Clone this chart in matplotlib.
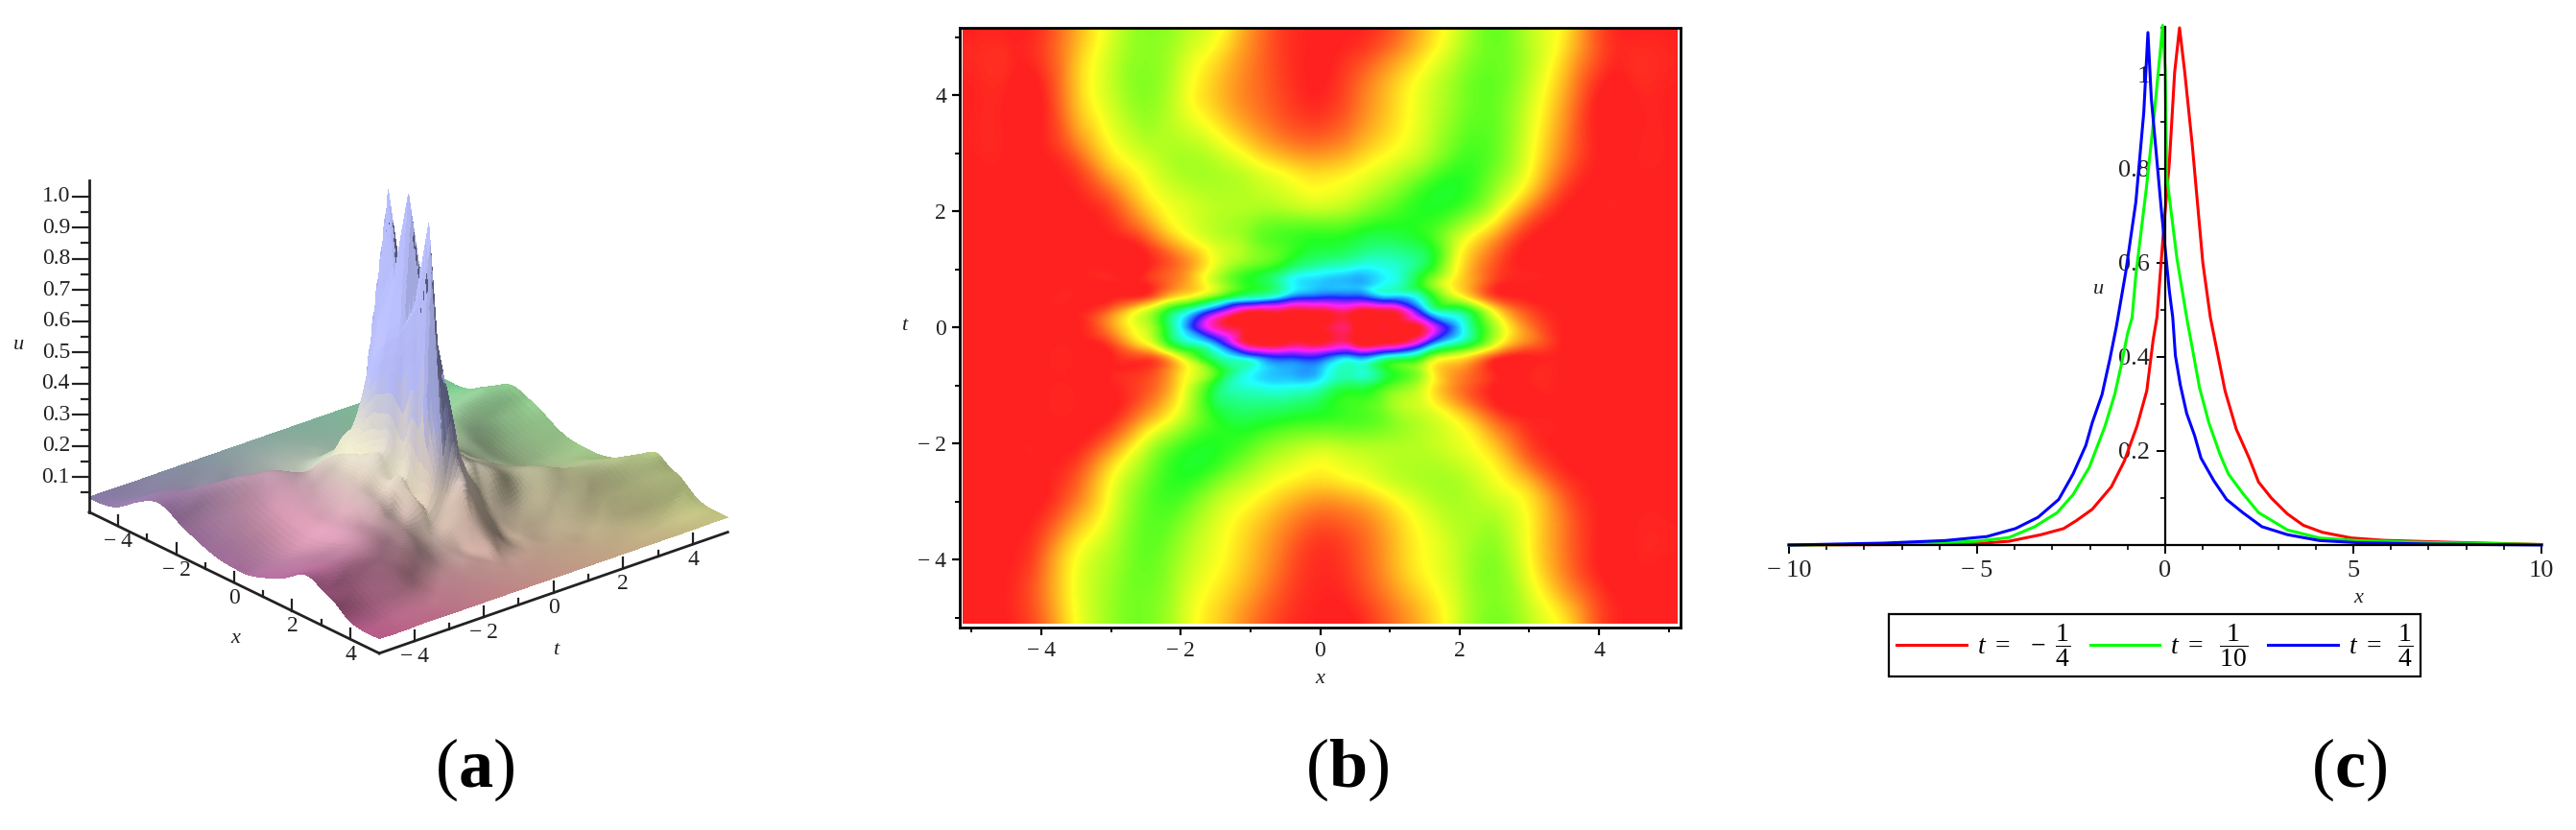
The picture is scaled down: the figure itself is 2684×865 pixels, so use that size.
import numpy as np
import matplotlib
matplotlib.use("Agg")
import matplotlib.pyplot as plt
import matplotlib.tri as mtri
from matplotlib.colors import LinearSegmentedColormap
from mpl_toolkits.mplot3d import proj3d

plt.rcParams['font.family'] = ['Liberation Serif', 'DejaVu Serif']
plt.rcParams['mathtext.fontset'] = 'custom'
plt.rcParams['mathtext.rm'] = 'Liberation Serif'
plt.rcParams['mathtext.it'] = 'Liberation Serif:italic'
plt.rcParams['mathtext.bf'] = 'Liberation Serif:bold'

# values: u on a grid of x and t
x_nodes = [-5, -4.5, -4, -3.5, -3, -2.5, -2, -1.5, -1, -.5, 0, .5, 1, 1.5, 2, 2.5, 3, 3.5, 4, 4.5, 5]
t_nodes = [-5, -4, -3, -2.5, -2, -1.5, -1, -.75, -.5, -.25, 0, .25, .5, .75, 1, 1.5, 2, 2.5, 3, 4, 5]
u_grid = [
    [.035, .035, .050, .085, .115, .125, .100, .075, .055, .040, .035, .035, .050, .070, .100, .125, .105, .080, .045, .035, .035],
    [.035, .035, .050, .085, .110, .130, .110, .088, .070, .050, .038, .045, .065, .085, .105, .120, .085, .055, .035, .035, .035],
    [.035, .035, .035, .055, .090, .130, .135, .105, .085, .070, .060, .065, .080, .100, .110, .100, .080, .050, .035, .035, .035],
    [.035, .035, .035, .045, .080, .120, .150, .135, .108, .090, .082, .090, .103, .110, .105, .085, .060, .038, .035, .035, .035],
    [.035, .035, .035, .035, .055, .095, .135, .150, .135, .115, .105, .110, .110, .105, .092, .070, .042, .035, .035, .035, .035],
    [.035, .035, .035, .035, .035, .060, .095, .150, .160, .155, .150, .140, .120, .100, .075, .045, .035, .035, .035, .035, .035],
    [.035, .035, .035, .035, .035, .045, .080, .155, .185, .190, .180, .160, .135, .095, .055, .035, .035, .035, .035, .035, .035],
    [.035, .035, .035, .035, .035, .040, .075, .135, .185, .210, .205, .180, .150, .100, .060, .035, .035, .035, .035, .035, .035],
    [.035, .035, .035, .035, .035, .045, .095, .170, .215, .250, .250, .220, .180, .140, .085, .045, .035, .035, .035, .035, .035],
    [.035, .035, .035, .035, .045, .085, .170, .225, .450, .550, .600, .700, 1.00, .280, .175, .100, .055, .035, .035, .035, .035],
    [.035, .035, .035, .035, .060, .100, .190, .360, .600, .750, 1.04, .750, .600, .380, .200, .110, .055, .035, .035, .035, .035],
    [.035, .035, .035, .035, .055, .100, .175, .280, 1.00, .700, .600, .550, .450, .225, .170, .085, .045, .035, .035, .035, .035],
    [.035, .035, .035, .035, .035, .045, .085, .140, .180, .220, .250, .250, .215, .170, .095, .045, .035, .035, .035, .035, .035],
    [.035, .035, .035, .035, .035, .035, .060, .100, .150, .180, .205, .210, .185, .135, .075, .040, .035, .035, .035, .035, .035],
    [.035, .035, .035, .035, .035, .035, .055, .095, .135, .160, .180, .190, .185, .155, .080, .045, .035, .035, .035, .035, .035],
    [.035, .035, .035, .035, .035, .045, .075, .100, .120, .140, .150, .155, .160, .150, .095, .060, .035, .035, .035, .035, .035],
    [.035, .035, .035, .035, .042, .070, .092, .105, .110, .110, .105, .115, .135, .150, .135, .095, .055, .035, .035, .035, .035],
    [.035, .035, .035, .038, .060, .085, .105, .110, .103, .090, .082, .090, .108, .135, .150, .120, .080, .045, .035, .035, .035],
    [.035, .035, .035, .050, .080, .100, .110, .100, .080, .065, .060, .070, .085, .105, .135, .130, .090, .055, .035, .035, .035],
    [.035, .035, .035, .070, .100, .120, .095, .072, .055, .042, .036, .050, .072, .095, .120, .130, .100, .065, .035, .035, .035],
    [.035, .035, .040, .065, .095, .120, .110, .090, .060, .040, .035, .035, .045, .070, .100, .130, .105, .080, .045, .035, .035],
]

# curves of panel (c)
red_x = [-10, -7, -5, -4.15, -3.3, -2.7, -2.36, -1.94, -1.43, -1.09, -.75, -.49, -.32, -.22, -.03, .11, .25, .38, .52, .72, 1, 1.2, 1.42, 1.59, 1.89, 2.23, 2.48, 2.82, 3.25, 3.67, 4.18, 4.95, 5.8, 7.5, 10]
red_u = [0, .001, .003, .008, .022, .035, .052, .076, .124, .178, .253, .328, .437, .484, .684, .813, 1.005, 1.10, 1.005, .85, .60, .484, .396, .328, .246, .185, .134, .10, .066, .042, .027, .015, .01, .006, .001]
green_x = [-10, -7, -5, -4.15, -3.47, -2.87, -2.45, -2.02, -1.6, -1.34, -1.17, -1, -.88, -.78, -.5, -.3, -.12, -.07, 0, .04, .31, .57, .74, .91, 1.16, 1.46, 1.68, 2.06, 2.48, 3.25, 4.1, 5.12, 6.65, 10]
green_u = [0, .002, .008, .016, .039, .069, .107, .165, .253, .321, .382, .45, .484, .575, .76, .91, 1.06, 1.105, 1.01, .785, .61, .484, .41, .335, .26, .192, .151, .11, .069, .032, .015, .0095, .006, .001]
blue_x = [-10, -7.5, -5.85, -4.74, -3.98, -3.38, -2.83, -2.45, -2.11, -1.94, -1.68, -1.47, -1.3, -1.05, -.78, -.57, -.46, -.37, -.1, .11, .2, .27, .4, .57, .78, .95, 1.29, 1.63, 2.06, 2.57, 3.25, 4.1, 5.12, 7.1, 10]
blue_u = [0, .004, .0095, .018, .035, .059, .097, .151, .212, .26, .32, .396, .464, .58, .73, .92, 1.09, .95, .71, .54, .484, .403, .341, .28, .233, .185, .137, .097, .069, .039, .022, .0095, .005, .002, 0]

# colour stops of the hue scale, against u
hue_u = [.035, .085, .15, .19, .25, .33, .42]
hue_colors = ['#ff2020', '#ffff20', '#20ff20', '#20ffff', '#2020ff', '#ff20ff', '#ff2020']
corner_colors = {'left': (.56, .50, .68), 'bottom': (.76, .38, .56), 'right': (.82, .82, .54), 'back': (.50, .84, .60)}
peak_color = (.66, .68, .90)
cream = (1, .98, .84)
pink = (.94, .64, .74)

W, H = 2684, 865
x_nodes = np.array(x_nodes, float)
t_nodes = np.array(t_nodes, float)
u_grid = np.array(u_grid)


def px_axes(l, t, r, b):
    return [l / W, 1 - b / H, (r - l) / W, (b - t) / H]


# smooth drawing mesh through the read values (library cubic interpolator)
gx, gt = np.meshgrid(x_nodes, t_nodes)
tri_grid = mtri.Triangulation(gx.ravel(), gt.ravel())
sub = 6
xf = np.interp(np.arange(0, 20 + 1e-9, 1 / sub), np.arange(21), x_nodes)
tf = np.interp(np.arange(0, 20 + 1e-9, 1 / sub), np.arange(21), t_nodes)
xf = np.clip(xf, -5 + 1e-7, 5 - 1e-7)
tf = np.clip(tf, -5 + 1e-7, 5 - 1e-7)
XF, TF = np.meshgrid(xf, tf)

cubic_log = mtri.CubicTriInterpolator(tri_grid, np.log(u_grid).ravel(), kind='min_E')
smooth_u = np.exp(np.ma.filled(cubic_log(XF, TF), np.log(.035)))
linear_u = np.ma.filled(mtri.LinearTriInterpolator(tri_grid, u_grid.ravel())(XF, TF), .035)
# the spikes stay sharp: straight facets above about u = 0.4
s = np.clip((linear_u - .3) / .2, 0, 1)
UF = np.clip(smooth_u * (1 - s) + linear_u * s, .03, 1.06)

# the density panel is smoothed on the hue scale, so the steep centre does not ring
hue_grid = np.interp(u_grid, hue_u, np.arange(len(hue_u)))
cubic_hue = mtri.CubicTriInterpolator(tri_grid, hue_grid.ravel(), kind='min_E')
HF = np.clip(np.ma.filled(cubic_hue(XF, TF), 0), 0, 6)

fig = plt.figure(figsize=(W / 100, H / 100), dpi=100)

# (a) surface
ax3 = fig.add_axes(px_axes(43, 9, 788, 754), projection='3d', proj_type='ortho', computed_zorder=False)
ax3.set_axis_off()
ax3.patch.set_alpha(0)
ax3.set_box_aspect((471, 478, 381))
ax3.view_init(elev=24.3, azim=-40.2)
ax3.set_xlim(-5, 5)
ax3.set_ylim(-5, 5)
ax3.set_zlim(-.012, 1.05)

du_dt, du_dx = np.gradient(UF, tf, xf)
nx, ny, nz = -du_dx * 7.6, -du_dt * 7.5, np.ones_like(UF)
norm = np.sqrt(nx**2 + ny**2 + nz**2)
nx, ny, nz = nx / norm, ny / norm, nz / norm
light = np.array([-.34, -.72, .60])
light = light / np.linalg.norm(light)
diff = np.clip(nx * light[0] + ny * light[1] + nz * light[2], -.12, 1)
a = ((XF + 5) / 10)[..., None]
b = ((TF + 5) / 10)[..., None]
c = {k: np.array(v) for k, v in corner_colors.items()}
base = (1 - a) * (1 - b) * c['left'] + a * (1 - b) * c['bottom'] + a * b * c['right'] + (1 - a) * b * c['back']
band = np.exp(-((XF + .6)**2 / 2 / 1.3**2 + (TF + 3.0)**2 / 2 / .9**2))[..., None]
base = base * (1 - .7 * band) + np.array(pink) * .7 * band
w = np.clip((UF - .16) / .25, 0, 1)[..., None]
base = base * (1 - w) + np.array(peak_color) * w
col = base * (.58 + .62 * diff[..., None])
glow = np.exp(-((XF + .9)**2 / 2 / 1.8**2 + (TF + .45)**2 / 2 / .8**2))[..., None] * (1 - w)
col = col * (1 - .9 * glow) + np.array(cream) * .9 * glow
col = np.clip(col, 0, 1)
ax3.plot_surface(XF, TF, UF, facecolors=col, rstride=1, cstride=1, shade=False,
                 linewidth=0, antialiased=False, zorder=2)

zb = -.012
M = ax3.get_proj()


def text3(x3, y3, z3, s, **kw):
    px, py, _ = proj3d.proj_transform(x3, y3, z3, M)
    ax3.text2D(px, py, s, transform=ax3.transData, fontsize=17, color='#222222', zorder=4, clip_on=False, **kw)


ax3.plot([-5, -5], [-5, -5], [zb, 1.05], color='#222222', lw=2, zorder=3)
ax3.plot([-5, 5], [-5, -5], [zb, zb], color='#222222', lw=2, zorder=3)
ax3.plot([5, 5], [-5, 5], [zb, zb], color='#222222', lw=2, zorder=3)
for v in range(-4, 5):
    h = .035 if v % 2 == 0 else .018
    ax3.plot([v, v], [-5, -5], [zb, zb + h], color='#222222', lw=1.6, zorder=3)
    ax3.plot([5, 5], [v, v], [zb, zb + h], color='#222222', lw=1.6, zorder=3)
    if v % 2 == 0:
        lab = str(v) if v >= 0 else '\u2212\u2009' + str(-v)
        text3(v, -5, -.062, lab, ha='center', va='center')
        text3(5, v, -.062, lab, ha='center', va='center')
for k in range(1, 21):
    z = k / 20
    L = 17 if k % 2 == 0 else 8
    ax3.plot([-5, -5 - .0137 * L], [-5, -5 - L / 62.6], [z, z], color='#222222', lw=1.6, zorder=3)
    if k % 2 == 0:
        text3(-5 - .0137 * 20, -5 - 20 / 62.6, z, '%.1f' % z, ha='right', va='center')
fig.text(19 / W, 1 - 360 / H, 'u', fontsize=16, style='italic', ha='center', va='center', color='#222222')
fig.text(245 / W, 1 - 666 / H, 'x', fontsize=16, style='italic', ha='center', va='center', color='#222222')
fig.text(579 / W, 1 - 678 / H, 't', fontsize=16, style='italic', ha='center', va='center', color='#222222')

# (b) density
hue_map = LinearSegmentedColormap.from_list('hue_scale', hue_colors, N=1024)
ax2 = fig.add_axes(px_axes(1000, 29, 1751, 654))
xh = xf.copy()
xh[[0, -1]] = [-5.12, 5.12]
th = tf.copy()
th[[0, -1]] = [-5.1, 5.13]
ax2.contourf(xh, th, HF, levels=np.linspace(0, 6, 400), cmap=hue_map, antialiased=False)
ax2.set_xlim(-5.17, 5.17)
ax2.set_ylim(-5.17, 5.157)
for sp in ax2.spines.values():
    sp.set_linewidth(2)
major = [-4, -2, 0, 2, 4]
ax2.set_xticks(major)
ax2.set_yticks(major)
ax2.set_xticks([-5, -3, -1, 1, 3, 5], minor=True)
ax2.set_yticks([-5, -3, -1, 1, 3, 5], minor=True)
labs = ['\u2212\u20094', '\u2212\u20092', '0', '2', '4']
ax2.set_xticklabels(labs)
ax2.set_yticklabels(labs)
ax2.tick_params(which='major', length=6, width=1.6, labelsize=17, pad=4, labelcolor='#222222')
ax2.tick_params(which='minor', length=3.5, width=1.4)
fig.text(1375 / W, 1 - 708 / H, 'x', fontsize=16, style='italic', ha='center', va='center', color='#222222')
fig.text(942 / W, 1 - 340 / H, 't', fontsize=16, style='italic', ha='center', va='center', color='#222222')

# (c) curves
ax1 = fig.add_axes(px_axes(1864, 28, 2648, 568))
l1, = ax1.plot(red_x, red_u, color='#ff0000', lw=2.2, clip_on=False, label=r'$t\ =\ \ -\ \dfrac{1}{4}$')
l2, = ax1.plot(green_x, green_u, color='#00ff00', lw=2.2, clip_on=False, label=r'$t\ =\ \ \dfrac{1}{10}$')
l3, = ax1.plot(blue_x, blue_u, color='#0000ff', lw=2.2, clip_on=False, label=r'$t\ =\ \ \dfrac{1}{4}$')
ax1.set_xlim(-10, 10)
ax1.set_ylim(0, 1.102)
ax1.spines['top'].set_visible(False)
ax1.spines['right'].set_visible(False)
ax1.spines['left'].set_position(('data', 0))
ax1.spines['left'].set_linewidth(1.6)
ax1.spines['bottom'].set_linewidth(1.6)
ax1.set_xticks([-10, -5, 0, 5, 10])
ax1.set_xticks([v for v in range(-10, 11) if v % 5], minor=True)
ax1.set_xticklabels(['\u2212\u200910', '\u2212\u20095', '0', '5', '10'])
ax1.set_yticks([.2, .4, .6, .8, 1])
ax1.set_yticklabels(['0.2', '0.4', '0.6', '0.8', '1'])
ax1.set_yticks([.1, .3, .5, .7, .9, 1.1], minor=True)
ax1.tick_params(which='major', length=6.5, width=1.4, labelsize=19, pad=5, labelcolor='#222222')
ax1.tick_params(which='minor', length=3.5, width=1.2)
ax1.patch.set_alpha(0)
fig.text(2186 / W, 1 - 302 / H, 'u', fontsize=16, style='italic', ha='center', va='center', color='#222222')
fig.text(2457 / W, 1 - 624 / H, 'x', fontsize=16, style='italic', ha='center', va='center', color='#222222')
leg = fig.legend(handles=[l1, l2, l3], ncol=3, loc='upper left', bbox_to_anchor=(1968 / W, 1 - 640 / H),
                 borderaxespad=0, fancybox=False, edgecolor='black', framealpha=1, fontsize=20,
                 handlelength=2.6, columnspacing=.75, handletextpad=.4, borderpad=.3)
leg.get_frame().set_linewidth(1.6)

# panel letters
for cx, s in zip([495, 1404, 2448], 'abc'):
    fig.text(cx / W, 1 - 802 / H, r'($\mathbf{%s}$)' % s, fontsize=52, ha='center', va='center', color='black')

fig.savefig('out.png', dpi=100)
